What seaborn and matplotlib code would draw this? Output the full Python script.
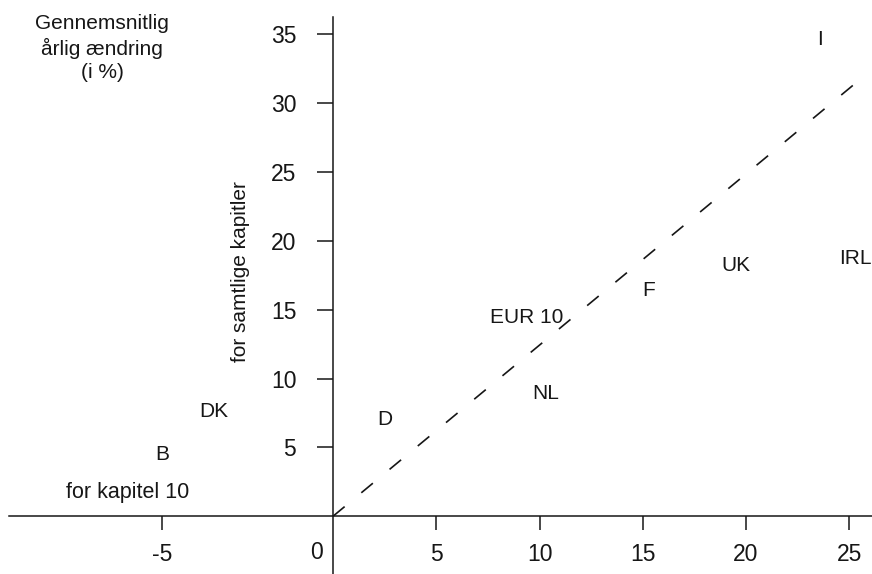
import numpy as np
import pandas as pd
import matplotlib
matplotlib.use("Agg")
import matplotlib.pyplot as plt
import seaborn as sns

# lande og gennemsnitlig årlig ændring (%)
lande = ["I", "UK", "IRL", "F", "EUR 10", "NL", "D", "DK", "B"]
kapitel_10 = [23.6, 19.5, 25.3, 15.3, 9.4, 10.3, 2.5, -3.5, -5.0]
samtlige = [34.6, 18.2, 18.7, 16.4, 14.4, 8.9, 7.0, 7.6, 4.5]

# stiplet referencelinje
linje_x = [0, 25.9]
linje_y = [0, 32.2]

x_ticks = [-5, 5, 10, 15, 20, 25]
y_ticks = [5, 10, 15, 20, 25, 30, 35]

df = pd.DataFrame({"land": lande, "x": kapitel_10, "y": samtlige})

sns.set_theme(style="white")
plt.rcParams["font.family"] = ["Liberation Sans", "DejaVu Sans"]
ink = "#161616"

fig = plt.figure(figsize=(8.72, 5.74), dpi=100)
ax = fig.add_axes([0, 0, 1, 1])

# negativ side af x-aksen er tegnet i en større skala
k = 34.2 / 20.65


def fwd(x):
    x = np.asarray(x, dtype=float)
    return np.where(x < 0, x * k, x)


def inv(x):
    x = np.asarray(x, dtype=float)
    return np.where(x < 0, x / k, x)


ax.set_xscale("function", functions=(fwd, inv))

sns.lineplot(x=linje_x, y=linje_y, ax=ax, color=ink, linewidth=1.2,
             dashes=False, linestyle=(0, (9, 13)))

for _, r in df.iterrows():
    ax.text(r["x"], r["y"], r["land"], ha="center", va="center",
            fontsize=15, color=ink)

ax.set_xlim(-9.74, 26.1)
ax.set_ylim(-4.2, 37.5)

for s in ["top", "right"]:
    ax.spines[s].set_visible(False)
ax.spines["left"].set_position(("data", 0))
ax.spines["bottom"].set_position(("data", 0))
ax.spines["left"].set_bounds(-4.2, 36.3)
ax.spines["bottom"].set_bounds(-9.47, 26.1)
for s in ["left", "bottom"]:
    ax.spines[s].set_color(ink)
    ax.spines[s].set_linewidth(1.1)

ax.set_xticks(x_ticks)
ax.set_xticklabels([str(t) for t in x_ticks])
ax.set_yticks(y_ticks)
ax.set_yticklabels([str(t) for t in y_ticks])
ax.tick_params(axis="x", direction="out", length=10, width=1.1, pad=9,
               labelsize=16.5, colors=ink, bottom=True)
ax.tick_params(axis="y", direction="out", length=11.5, width=1.1, pad=15,
               labelsize=16.5, colors=ink, left=True)
ax.annotate("0", xy=(0, 0), xytext=(-12, -26), textcoords="offset points",
            ha="center", va="center", fontsize=16.5, color=ink)

ax.set_xlabel("for kapitel 10", fontsize=15.5, color=ink)
ax.xaxis.set_label_coords(128 / 872, 1 - 482 / 574)
ax.set_ylabel("for samtlige kapitler", fontsize=15, color=ink)
ax.yaxis.set_label_coords(250 / 872, 1 - 272 / 574)

fig.text(102 / 872, 1 - 48 / 574, "Gennemsnitlig\nårlig ændring\n(i %)",
         ha="center", va="center", fontsize=15, color=ink, linespacing=1.3)

ax.patch.set_alpha(0)
fig.savefig("out.png", dpi=100, facecolor="white")
